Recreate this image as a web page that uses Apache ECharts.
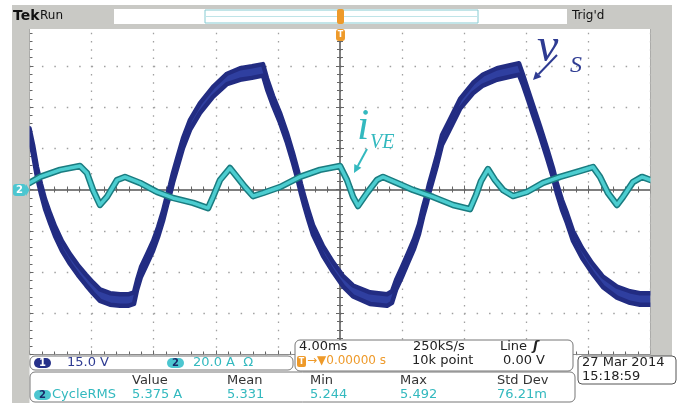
<!DOCTYPE html>
<html><head><meta charset="utf-8">
<script src="https://cdn.jsdelivr.net/npm/echarts@6/dist/echarts.min.js"></script>
<style>html,body{margin:0;padding:0;background:#fff}#c{width:680px;height:403px}</style>
</head><body><div id="c"></div>
<script>
// time axis in ms (4 ms/div, trigger at 0)
const tVs = [-20.0,-19.77,-19.52,-19.26,-19.00,-18.68,-18.36,-17.91,-17.39,-16.88,-16.36,-15.91,-15.46,-14.81,-14.17,-13.65,-13.27,-13.07,-12.82,-12.43,-12.04,-11.72,-11.40,-11.14,-10.95,-10.76,-10.50,-10.11,-9.66,-9.02,-8.18,-7.28,-6.44,-5.67,-4.96,-4.70,-4.31,-3.86,-3.41,-3.03,-2.71,-2.51,-2.32,-2.06,-1.74,-1.09,-0.45,0.19,0.84,1.93,3.03,3.35,3.61,3.99,4.38,4.77,5.09,5.35,5.60,5.73,5.93,6.25,6.57,7.09,7.73,8.57,9.21,10.11,10.95,11.53,11.79,12.11,12.43,12.88,13.33,13.72,13.98,14.30,14.62,15.01,15.59,16.23,16.94,17.84,18.68,19.32,20.0];
// v_s envelope (V), channel 1 at 15 V/div
const vsHigh = [22.3,16.2,8.2,2.0,-3.5,-8.6,-13.3,-18.7,-23.5,-27.5,-31.0,-33.8,-36.3,-37.7,-38.1,-38.1,-37.4,-32.9,-28.2,-23.5,-18.7,-13.7,-7.8,-2.0,1.6,6.0,11.1,18.7,25.3,31.4,37.3,42.1,44.1,44.8,45.6,40.4,34.0,27.8,20.5,13.3,6.7,2.0,-2.0,-7.1,-12.9,-20.6,-26.4,-31.4,-34.9,-37.4,-38.1,-37.0,-32.9,-28.2,-23.1,-18.0,-12.6,-6.4,-1.3,2.0,6.0,12.5,19.8,25.6,32.9,38.8,41.8,44.1,45.2,45.9,41.7,36.2,30.7,23.1,15.1,7.8,2.0,-3.8,-8.6,-15.1,-21.3,-26.7,-31.7,-35.3,-37.0,-37.7,-37.7];
const vsLow = [18.7,12.6,4.6,-1.6,-7.1,-12.2,-16.9,-22.3,-27.1,-31.1,-34.8,-37.8,-40.5,-41.9,-42.3,-42.3,-41.6,-36.5,-31.8,-27.1,-22.3,-17.3,-11.4,-5.6,-2.0,2.4,7.5,15.1,21.7,27.8,33.7,38.3,39.9,40.6,41.4,36.4,30.4,24.2,16.9,9.7,3.1,-1.6,-5.6,-10.7,-16.5,-24.2,-30.0,-35.2,-38.9,-41.6,-42.3,-41.2,-36.5,-31.8,-26.7,-21.6,-16.2,-10.0,-4.9,-1.6,2.4,8.9,16.2,22.0,29.3,35.0,37.8,39.9,41.0,41.7,37.9,32.6,27.1,19.5,11.5,4.2,-1.6,-7.4,-12.2,-18.7,-24.9,-30.3,-35.5,-39.3,-41.2,-41.9,-41.9];
// i_VE (A), channel 2 at 20 A/div
const tI = [-20.0,-19.32,-18.03,-16.75,-16.30,-15.91,-15.46,-15.01,-14.36,-13.85,-12.88,-11.79,-10.76,-9.47,-8.50,-8.18,-7.73,-7.09,-6.63,-6.12,-5.60,-4.96,-3.86,-2.58,-1.29,0.0,0.45,0.84,1.16,1.74,2.38,2.77,3.67,4.70,5.99,7.28,8.37,8.76,9.08,9.53,9.98,10.50,11.14,12.04,13.08,14.17,15.26,16.30,16.75,17.26,17.84,18.23,18.87,19.45,20.0];
const iVE = [3.2,6.1,9.5,11.4,8.0,-0.2,-7.5,-3.6,4.6,6.1,3.2,-1.2,-4.1,-6.5,-9.0,-3.6,4.6,10.4,6.1,1.2,-3.2,-1.7,1.2,6.1,9.5,11.4,4.6,-3.6,-8.0,-1.7,4.6,6.1,3.2,-0.2,-3.6,-7.5,-9.5,-2.7,4.1,9.9,4.6,-0.2,-3.2,-1.2,3.2,6.1,8.5,10.9,6.1,-1.7,-7.5,-3.6,3.6,6.1,4.6];

const FONT = '"DejaVu Sans", sans-serif';
const SERIF = '"Liberation Serif", "DejaVu Serif", serif';
const GRAY = '#c9c9c5';
const NAVY = '#2e3b92';
const TEAL = '#33b9bf';
const ORANGE = '#ee9a2a';

function txt(x, y, s, color, size, o) {
  o = o || {};
  return {type:'text', x:x, y:y, z:110, silent:true,
    style:{text:s, fill:color, font:(o.style||'normal')+' '+(o.weight||'normal')+' '+size+'px '+(o.family||FONT),
      textAlign:o.align||'left', textVerticalAlign:'middle', align:o.align||'left', verticalAlign:'middle'}};
}
function rect(x, y, w, h, r, fill, stroke, z) {
  return {type:'rect', z:z||100, silent:true, shape:{x:x,y:y,width:w,height:h,r:r},
    style:{fill:fill, stroke:stroke||null, lineWidth:1}};
}
function arrow(x1, y1, x2, y2, color) {
  const dx = x2-x1, dy = y2-y1, L = Math.hypot(dx,dy), ux = dx/L, uy = dy/L;
  const hl = 8, hw = 4;
  const bx = x2-ux*hl, by = y2-uy*hl;
  return [
    {type:'line', z:110, silent:true, shape:{x1:x1,y1:y1,x2:bx,y2:by}, style:{stroke:color, lineWidth:2}},
    {type:'polygon', z:110, silent:true, shape:{points:[[x2,y2],[bx-uy*hw,by+ux*hw],[bx+uy*hw,by-ux*hw]]}, style:{fill:color}}
  ];
}
function badge(x, y, label, fill, color) {
  return [rect(x, y, 17, 10, 5, fill, null, 105), txt(x+8.5, y+5, label, color, 10, {weight:'bold', align:'center'})];
}

const tickStyle = {color:'#666', width:1};
const graphics = [].concat(
  [rect(12, 5, 660, 24, 0, GRAY, null, 100),
   rect(12, 5, 17.5, 398, 0, GRAY, null, 100),
   rect(650.5, 5, 21.5, 352, 0, GRAY, null, 100),
   rect(114, 9, 453, 15, 0, '#ffffff', null, 101),
   rect(205, 10, 273, 13, 0, '#ffffff', '#86cbd2', 102),
   {type:'line', z:103, silent:true, shape:{x1:206,y1:16.5,x2:477,y2:16.5}, style:{stroke:'#bfe4e8', lineWidth:1}},
   rect(337, 9, 7, 15, 2, ORANGE, null, 104),
   txt(13, 16, 'Tek', '#111', 14, {weight:'bold'}),
   txt(40, 16, 'Run', '#111', 12),
   txt(572, 16, "Trig'd", '#111', 12),
   rect(336, 29, 9, 12, 3, ORANGE, null, 104),
   txt(340.5, 35, 'T', '#fff', 8, {weight:'bold', align:'center'}),
   rect(13, 184, 13, 12, 3, '#4cc6d0', null, 104),
   {type:'polygon', z:104, silent:true, shape:{points:[[26,184],[29.5,190],[26,196]]}, style:{fill:'#4cc6d0'}},
   txt(19.5, 190, '2', '#fff', 10, {weight:'bold', align:'center'}),
   // annotations
   txt(537, 48, 'v', NAVY, 48, {style:'italic', family:SERIF}),
   txt(570, 66, 'S', NAVY, 24, {style:'italic', family:SERIF}),
   txt(357, 127, 'i', TEAL, 44, {style:'italic', family:SERIF}),
   txt(370, 143, 'VE', TEAL, 20, {style:'italic', family:SERIF}),
   // bottom boxes
   rect(295, 340, 278, 31, 5, '#ffffff', '#777', 100),
   rect(30, 356, 263, 14, 5, '#ffffff', '#777', 101),
   rect(30, 372, 545, 30, 5, '#ffffff', '#777', 101),
   rect(578, 356, 98, 28, 4, '#ffffff', '#555', 101),
   txt(67, 363, '15.0 V', NAVY, 13),
   txt(193, 363, '20.0 A  \u03A9', TEAL, 13),
   txt(299, 347, '4.00ms', '#222', 13),
   txt(413, 347, '250kS/s', '#222', 13),
   txt(500, 347, 'Line', '#222', 13),
   txt(533, 347, '\u0283', '#222', 13, {style:'italic', weight:'bold'}),
   rect(297, 356, 9, 11, 2, ORANGE, null, 105),
   txt(301.5, 361.5, 'T', '#fff', 8, {weight:'bold', align:'center'}),
   txt(307, 361, '\u2192\u25BC0.00000 s', ORANGE, 12),
   txt(412, 361, '10k point', '#222', 13),
   txt(503, 361, '0.00 V', '#222', 13),
   txt(582, 363, '27 Mar 2014', '#222', 13),
   txt(582, 377, '15:18:59', '#222', 13),
   txt(132, 381, 'Value', '#333', 13),
   txt(227, 381, 'Mean', '#333', 13),
   txt(310, 381, 'Min', '#333', 13),
   txt(400, 381, 'Max', '#333', 13),
   txt(497, 381, 'Std Dev', '#333', 13),
   txt(52, 395, 'CycleRMS', TEAL, 13),
   txt(132, 395, '5.375 A', TEAL, 13),
   txt(227, 395, '5.331', TEAL, 13),
   txt(310, 395, '5.244', TEAL, 13),
   txt(400, 395, '5.492', TEAL, 13),
   txt(497, 395, '76.21m', TEAL, 13)
  ],
  badge(34, 358, '1', '#26318a', '#fff'),
  badge(167, 358, '2', '#4cc6d0', '#1a2a6a'),
  badge(34, 390, '2', '#4cc6d0', '#1a2a6a'),
  arrow(557, 55, 533, 80, NAVY),
  arrow(367, 149, 354, 173, TEAL)
);

const chart = echarts.init(document.getElementById('c'), null, {renderer:'canvas'});
const hidden = {show:false};
const edgeStyle = {color:'#222c82', width:4.5, cap:'round', join:'round'};
chart.setOption({
  animation:false,
  backgroundColor:'#ffffff',
  grid:{left:29.5, top:24.5, width:621, height:330, show:true, backgroundColor:'#ffffff', borderColor:'#8c8c8c', borderWidth:1},
  xAxis:[
    {type:'value', min:-20, max:20, interval:4, position:'bottom',
     axisLine:{onZero:true, lineStyle:{color:'#555', width:1.5}},
     axisTick:{show:true, inside:true, length:4, lineStyle:tickStyle},
     minorTick:{show:true, splitNumber:5, length:3, lineStyle:tickStyle},
     axisLabel:hidden,
     splitLine:{show:true, lineStyle:{color:'#a0a0a0', width:1.3, type:[1.5,6.75]}}},
    {type:'value', min:-20, max:20, interval:4, position:'top',
     axisLine:hidden, axisTick:{show:true, inside:true, length:4, lineStyle:tickStyle},
     minorTick:{show:true, splitNumber:5, length:3, lineStyle:tickStyle}, axisLabel:hidden, splitLine:hidden},
    {type:'value', min:-20, max:20, interval:4, position:'bottom',
     axisLine:{show:false, onZero:false}, axisTick:{show:true, inside:true, length:4, lineStyle:tickStyle},
     minorTick:{show:true, splitNumber:5, length:3, lineStyle:tickStyle}, axisLabel:hidden, splitLine:hidden}
  ],
  yAxis:[
    {type:'value', min:-60, max:60, interval:15, position:'left',
     axisLine:{onZero:true, lineStyle:{color:'#555', width:1.5}},
     axisTick:{show:true, inside:true, length:4, lineStyle:tickStyle},
     minorTick:{show:true, splitNumber:5, length:3, lineStyle:tickStyle},
     axisLabel:hidden,
     splitLine:{show:true, lineStyle:{color:'#a0a0a0', width:1.3, type:[1.5,10.92]}}},
    {type:'value', min:-80, max:80, interval:20, position:'right',
     axisLine:hidden, axisTick:{show:true, inside:true, length:4, lineStyle:tickStyle},
     minorTick:{show:true, splitNumber:5, length:3, lineStyle:tickStyle}, axisLabel:hidden, splitLine:hidden},
    {type:'value', min:-60, max:60, interval:15, position:'left',
     axisLine:{show:false, onZero:false}, axisTick:{show:true, inside:true, length:4, lineStyle:tickStyle},
     minorTick:{show:true, splitNumber:5, length:3, lineStyle:tickStyle}, axisLabel:hidden, splitLine:hidden}
  ],
  series:[
    {name:'vs band', type:'custom', xAxisIndex:0, yAxisIndex:0, z:3, silent:true,
     data:[[tVs[0], vsHigh[0]]],
     renderItem:function(params, api){
       const pts = [];
       for (let i = 0; i < tVs.length; i++) pts.push(api.coord([tVs[i], vsHigh[i]]));
       for (let i = tVs.length - 1; i >= 0; i--) pts.push(api.coord([tVs[i], vsLow[i]]));
       return {type:'polygon', shape:{points:pts}, style:{fill:'#2f3fa0'}};
     }},
    {name:'vs high', type:'line', xAxisIndex:0, yAxisIndex:0, z:4, symbol:'none', smooth:false,
     data:tVs.map((t,i)=>[t, vsHigh[i]]), lineStyle:edgeStyle},
    {name:'vs low', type:'line', xAxisIndex:0, yAxisIndex:0, z:4, symbol:'none', smooth:false,
     data:tVs.map((t,i)=>[t, vsLow[i]]), lineStyle:edgeStyle},
    {name:'iVE edge', type:'line', xAxisIndex:0, yAxisIndex:1, z:5, symbol:'none', smooth:false,
     data:tI.map((t,i)=>[t, iVE[i]]),
     lineStyle:{color:'#1a7c80', width:6.5, cap:'round', join:'round'}},
    {name:'iVE', type:'line', xAxisIndex:0, yAxisIndex:1, z:6, symbol:'none', smooth:false,
     data:tI.map((t,i)=>[t, iVE[i]]),
     lineStyle:{color:'#4ccdd0', width:3.5, cap:'round', join:'round'}}
  ],
  graphic:{elements:graphics}
});
</script></body></html>
